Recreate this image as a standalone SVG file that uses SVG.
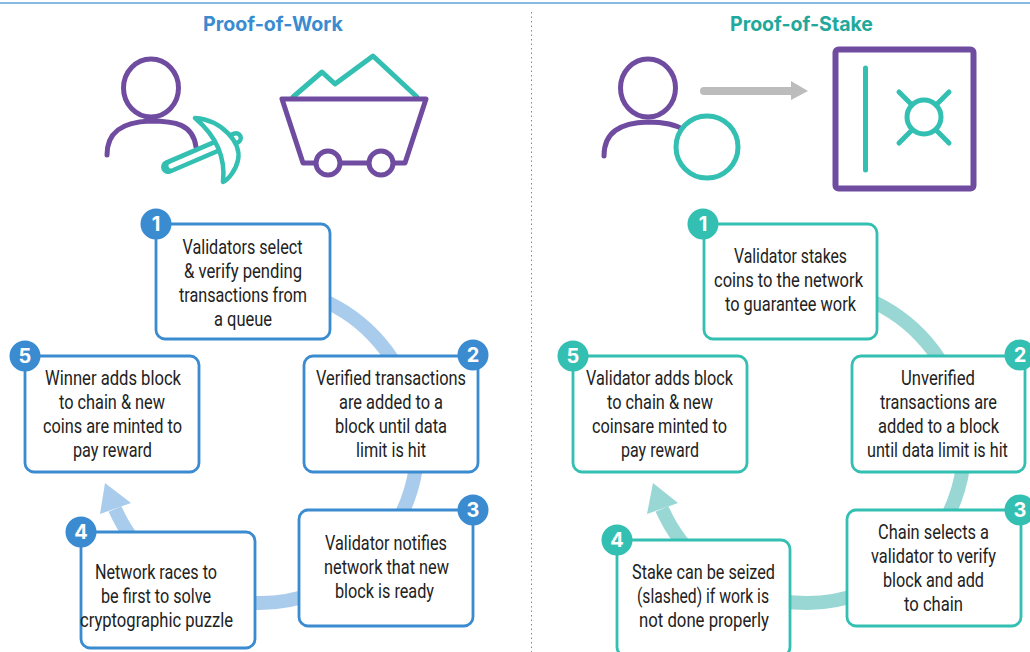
<svg xmlns="http://www.w3.org/2000/svg" width="1030" height="652" viewBox="0 0 1030 652">
<style>
.box{fill:#fff;stroke-width:2.8}
.b .box{stroke:#3a8bd0}
.g .box{stroke:#33bfb1}
.b .dot{fill:#3a8bd0}
.g .dot{fill:#33bfb1}
.dot{stroke:none}
.num{font:700 20px Inter,"Liberation Sans",sans-serif;fill:#fff;text-anchor:middle}
.t{font:400 20px Roboto,"Liberation Sans",sans-serif;fill:#222}
.title{font:700 20px Inter,"Liberation Sans",sans-serif}
.p{fill:none;stroke:#6f4c9f;stroke-width:5;stroke-linecap:round;stroke-linejoin:round}
.q{fill:none;stroke:#33bfb1;stroke-width:5;stroke-linecap:round;stroke-linejoin:round}
</style>
<rect width="1030" height="652" fill="#fff"/>
<path d="M0 3H1030" stroke="#5aa5dd" stroke-width="1.6"/>
<path d="M531.500 12V652" stroke="#888" stroke-width="1" stroke-dasharray="1.500 3"/>
<text class="title" x="203" y="31" fill="#3a8bd0" textLength="140" lengthAdjust="spacingAndGlyphs">Proof-of-Work</text>
<text class="title" x="730" y="31" fill="#1fa89b" textLength="143" lengthAdjust="spacingAndGlyphs">Proof-of-Stake</text>

<g id="icon-miner">
<ellipse class="p" cx="151" cy="88" rx="27.500" ry="29"/>
<path class="p" d="M107 155C107 132 122 122 150 121C175 121 193 124 196 147"/>
<path d="M168 167L236 138" stroke="#33bfb1" stroke-width="14" stroke-linecap="round"/>
<path d="M171 166L236 138" stroke="#fff" stroke-width="5" stroke-linecap="round"/>
<path d="M195 118C222 120 242 143 238 160C236 170 228 180 223 182C226 155 215 135 195 118Z" fill="#fff" stroke="#33bfb1" stroke-width="4.500" stroke-linejoin="round"/>
</g>
<g id="icon-cart">
<path class="q" d="M293 97L322 72L335 84L373 56L417 97"/>
<path class="p" d="M282 99H426L405 163H303Z"/>
<circle class="p" cx="328" cy="163" r="12" style="fill:#fff"/>
<circle class="p" cx="381" cy="163" r="12" style="fill:#fff"/>
</g>
<g id="icon-staker">
<ellipse class="p" cx="648" cy="88" rx="27.500" ry="29"/>
<path class="p" d="M604 156C604 132 620 123 648 122C662 122 675 124 684 130"/>
<circle class="q" cx="707" cy="147" r="31" style="fill:#fff"/>
</g>
<g id="icon-arrow">
<path d="M704 91H792" stroke="#bcbcbc" stroke-width="8" stroke-linecap="round"/>
<path d="M791 81L808 91L791 100Z" fill="#bcbcbc"/>
</g>
<g id="icon-safe">
<rect x="835.500" y="49.500" width="138" height="139" rx="3" fill="none" stroke="#6f4c9f" stroke-width="6"/>
<path class="q" d="M865.500 68V170M899 92L912 105M949 92L936 105M899 143L912 130M949 143L936 130"/>
<circle class="q" cx="924" cy="117" r="17"/>
</g>

<g id="connectors">
<path d="M312 296A158 158 0 1 1 115 509" fill="none" stroke="#aaccec" stroke-width="14"/>
<path d="M105 483L100 514L131 503Z" fill="#aaccec"/>
<path d="M859 296A158 158 0 1 1 662 509" fill="none" stroke="#98d7d3" stroke-width="14"/>
<path d="M653 483L647 514L678 503Z" fill="#98d7d3"/>
</g>

<g id="pow-1" class="b"><rect class="box" x="156" y="224" width="174" height="115" rx="9"/><circle class="dot" cx="156" cy="224" r="15.500"/><text class="num" x="156" y="231">1</text>
<text class="t" x="182.500" y="254" textLength="120" lengthAdjust="spacingAndGlyphs">Validators select</text>
<text class="t" x="184" y="278" textLength="118" lengthAdjust="spacingAndGlyphs">&amp; verify pending</text>
<text class="t" x="179" y="302" textLength="128" lengthAdjust="spacingAndGlyphs">transactions from</text>
<text class="t" x="214" y="326" textLength="58" lengthAdjust="spacingAndGlyphs">a queue</text></g>
<g id="pow-2" class="b"><rect class="box" x="304" y="356" width="174" height="116" rx="9"/><circle class="dot" cx="473" cy="355" r="15.500"/><text class="num" x="473" y="362">2</text>
<text class="t" x="316" y="385" textLength="150" lengthAdjust="spacingAndGlyphs">Verified transactions</text>
<text class="t" x="339" y="409" textLength="104" lengthAdjust="spacingAndGlyphs">are added to a</text>
<text class="t" x="335" y="433" textLength="112" lengthAdjust="spacingAndGlyphs">block until data</text>
<text class="t" x="356" y="457" textLength="70" lengthAdjust="spacingAndGlyphs">limit is hit</text></g>
<g id="pow-3" class="b"><rect class="box" x="299" y="510" width="174" height="116" rx="9"/><circle class="dot" cx="473" cy="510" r="15.500"/><text class="num" x="473" y="517">3</text>
<text class="t" x="325" y="550" textLength="122" lengthAdjust="spacingAndGlyphs">Validator notifies</text>
<text class="t" x="324" y="574" textLength="125" lengthAdjust="spacingAndGlyphs">network that new</text>
<text class="t" x="335" y="598" textLength="99" lengthAdjust="spacingAndGlyphs">block is ready</text></g>
<g id="pow-4" class="b"><rect class="box" x="81" y="532" width="174" height="116" rx="9"/><circle class="dot" cx="81" cy="532" r="15.500"/><text class="num" x="81" y="539">4</text>
<text class="t" x="95" y="579" textLength="122" lengthAdjust="spacingAndGlyphs">Network races to</text>
<text class="t" x="101" y="603" textLength="110" lengthAdjust="spacingAndGlyphs">be first to solve</text>
<text class="t" x="80" y="627" textLength="153" lengthAdjust="spacingAndGlyphs">cryptographic puzzle</text></g>
<g id="pow-5" class="b"><rect class="box" x="25" y="356" width="174" height="116" rx="9"/><circle class="dot" cx="25" cy="356" r="15.500"/><text class="num" x="25" y="363">5</text>
<text class="t" x="45" y="385" textLength="136" lengthAdjust="spacingAndGlyphs">Winner adds block</text>
<text class="t" x="59" y="409" textLength="106" lengthAdjust="spacingAndGlyphs">to chain &amp; new</text>
<text class="t" x="43" y="433" textLength="139" lengthAdjust="spacingAndGlyphs">coins are minted to</text>
<text class="t" x="73" y="457" textLength="79" lengthAdjust="spacingAndGlyphs">pay reward</text></g>

<g id="pos-1" class="g"><rect class="box" x="704" y="224" width="173" height="115" rx="9"/><circle class="dot" cx="703" cy="224" r="15.500"/><text class="num" x="703" y="231">1</text>
<text class="t" x="734" y="263" textLength="113" lengthAdjust="spacingAndGlyphs">Validator stakes</text>
<text class="t" x="714" y="287" textLength="149" lengthAdjust="spacingAndGlyphs">coins to the network</text>
<text class="t" x="725" y="311" textLength="131" lengthAdjust="spacingAndGlyphs">to guarantee work</text></g>
<g id="pos-2" class="g"><rect class="box" x="852" y="356" width="173" height="116" rx="9"/><circle class="dot" cx="1020" cy="355" r="15.500"/><text class="num" x="1020" y="362">2</text>
<text class="t" x="901" y="385" textLength="74" lengthAdjust="spacingAndGlyphs">Unverified</text>
<text class="t" x="880" y="409" textLength="117" lengthAdjust="spacingAndGlyphs">transactions are</text>
<text class="t" x="878" y="433" textLength="121" lengthAdjust="spacingAndGlyphs">added to a block</text>
<text class="t" transform="translate(867 457) scale(.81 1)">until data limit is hit</text></g>
<g id="pos-3" class="g"><rect class="box" x="847" y="510" width="174" height="116" rx="9"/><circle class="dot" cx="1020" cy="510" r="15.500"/><text class="num" x="1020" y="517">3</text>
<text class="t" x="878" y="539" textLength="111" lengthAdjust="spacingAndGlyphs">Chain selects a</text>
<text class="t" x="871" y="563" textLength="125" lengthAdjust="spacingAndGlyphs">validator to verify</text>
<text class="t" x="883" y="587" textLength="101" lengthAdjust="spacingAndGlyphs">block and add</text>
<text class="t" x="904" y="611" textLength="59" lengthAdjust="spacingAndGlyphs">to chain</text></g>
<g id="pos-4" class="g"><rect class="box" x="617" y="540" width="173" height="116" rx="9"/><circle class="dot" cx="617" cy="540" r="15.500"/><text class="num" x="617" y="547">4</text>
<text class="t" x="632" y="579" textLength="143" lengthAdjust="spacingAndGlyphs">Stake can be seized</text>
<text class="t" x="637" y="603" textLength="132" lengthAdjust="spacingAndGlyphs">(slashed) if work is</text>
<text class="t" x="639" y="627" textLength="130" lengthAdjust="spacingAndGlyphs">not done properly</text></g>
<g id="pos-5" class="g"><rect class="box" x="573" y="356" width="174" height="116" rx="9"/><circle class="dot" cx="573" cy="356" r="15.500"/><text class="num" x="573" y="363">5</text>
<text class="t" x="586" y="385" textLength="147" lengthAdjust="spacingAndGlyphs">Validator adds block</text>
<text class="t" x="607" y="409" textLength="106" lengthAdjust="spacingAndGlyphs">to chain &amp; new</text>
<text class="t" x="592" y="433" textLength="135" lengthAdjust="spacingAndGlyphs">coinsare minted to</text>
<text class="t" x="621" y="457" textLength="78" lengthAdjust="spacingAndGlyphs">pay reward</text></g>
</svg>
